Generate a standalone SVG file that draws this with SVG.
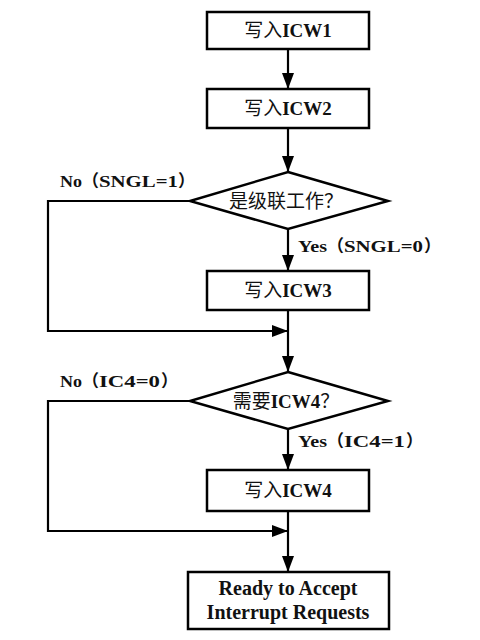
<svg xmlns="http://www.w3.org/2000/svg" width="480" height="640" viewBox="0 0 480 640">
<style>
.box{fill:#fff;stroke:#000;stroke-width:2.5}
.ln{fill:none;stroke:#000;stroke-width:2.2}
.t{font-family:"Liberation Serif","Noto Sans CJK SC",serif;font-weight:bold;font-size:19px;text-anchor:middle;fill:#111}
.r{font-size:20px}
.c{font-family:"Noto Sans CJK SC",sans-serif;font-weight:normal}
.lb{font-family:"Liberation Serif","Noto Sans CJK SC",serif;font-weight:bold;font-size:17px;fill:#111}
.p{font-family:"Noto Sans CJK SC",sans-serif;font-weight:bold}
</style>
<defs>
<marker id="ah" markerUnits="userSpaceOnUse" markerWidth="16" markerHeight="12" refX="16" refY="6" orient="auto">
<path d="M0,0 L16,6 L0,12 z" fill="#000"/>
</marker>
</defs>
<rect width="480" height="640" fill="#fff"/>
<g id="connectors">
<path class="ln" d="M288,49 V89" marker-end="url(#ah)"/>
<path class="ln" d="M288,128 V172" marker-end="url(#ah)"/>
<path class="ln" d="M190,201 H48 V331 H288" marker-end="url(#ah)"/>
<path class="ln" d="M288,229 V271" marker-end="url(#ah)"/>
<path class="ln" d="M288,310 V372" marker-end="url(#ah)"/>
<path class="ln" d="M190,401 H48 V531 H288" marker-end="url(#ah)"/>
<path class="ln" d="M288,429 V470" marker-end="url(#ah)"/>
<path class="ln" d="M288,511 V572" marker-end="url(#ah)"/>
<text class="lb" y="187"><tspan x="60" textLength="22" lengthAdjust="spacingAndGlyphs">No</tspan><tspan class="p" x="82">（</tspan><tspan x="99" textLength="79" lengthAdjust="spacingAndGlyphs">SNGL=1</tspan><tspan class="p" x="178">）</tspan></text>
<text class="lb" y="252"><tspan x="298" textLength="29" lengthAdjust="spacingAndGlyphs">Yes</tspan><tspan class="p" x="327">（</tspan><tspan x="344" textLength="79" lengthAdjust="spacingAndGlyphs">SNGL=0</tspan><tspan class="p" x="424">）</tspan></text>
<text class="lb" y="387"><tspan x="60" textLength="22" lengthAdjust="spacingAndGlyphs">No</tspan><tspan class="p" x="82">（</tspan><tspan x="99" textLength="61" lengthAdjust="spacingAndGlyphs">IC4=0</tspan><tspan class="p" x="161">）</tspan></text>
<text class="lb" y="447"><tspan x="298" textLength="29" lengthAdjust="spacingAndGlyphs">Yes</tspan><tspan class="p" x="327">（</tspan><tspan x="344" textLength="61" lengthAdjust="spacingAndGlyphs">IC4=1</tspan><tspan class="p" x="406">）</tspan></text>
</g>
<g id="icw1">
<rect class="box" x="207" y="12" width="162" height="37"/>
<text class="t" x="288" y="37"><tspan class="c">写入</tspan>ICW1</text>
</g>
<g id="icw2">
<rect class="box" x="207" y="89" width="162" height="39"/>
<text class="t" x="288" y="115"><tspan class="c">写入</tspan>ICW2</text>
</g>
<g id="cascade">
<polygon class="box" points="288,172 388,201 288,229 190,201"/>
<text class="t" x="286" y="208"><tspan class="c">是级联工作？</tspan></text>
</g>
<g id="icw3">
<rect class="box" x="207" y="271" width="162" height="39"/>
<text class="t" x="288" y="297"><tspan class="c">写入</tspan>ICW3</text>
</g>
<g id="needicw4">
<polygon class="box" points="288,372 388,401 288,429 190,401"/>
<text class="t" x="286" y="408"><tspan class="c">需要</tspan>ICW4<tspan class="c">？</tspan></text>
</g>
<g id="icw4">
<rect class="box" x="207" y="470" width="162" height="41"/>
<text class="t" x="288" y="497"><tspan class="c">写入</tspan>ICW4</text>
</g>
<g id="ready">
<rect class="box" x="188" y="572" width="201" height="57"/>
<text class="t r" x="288" y="595">Ready to Accept</text>
<text class="t r" x="288" y="619">Interrupt Requests</text>
</g>
</svg>
